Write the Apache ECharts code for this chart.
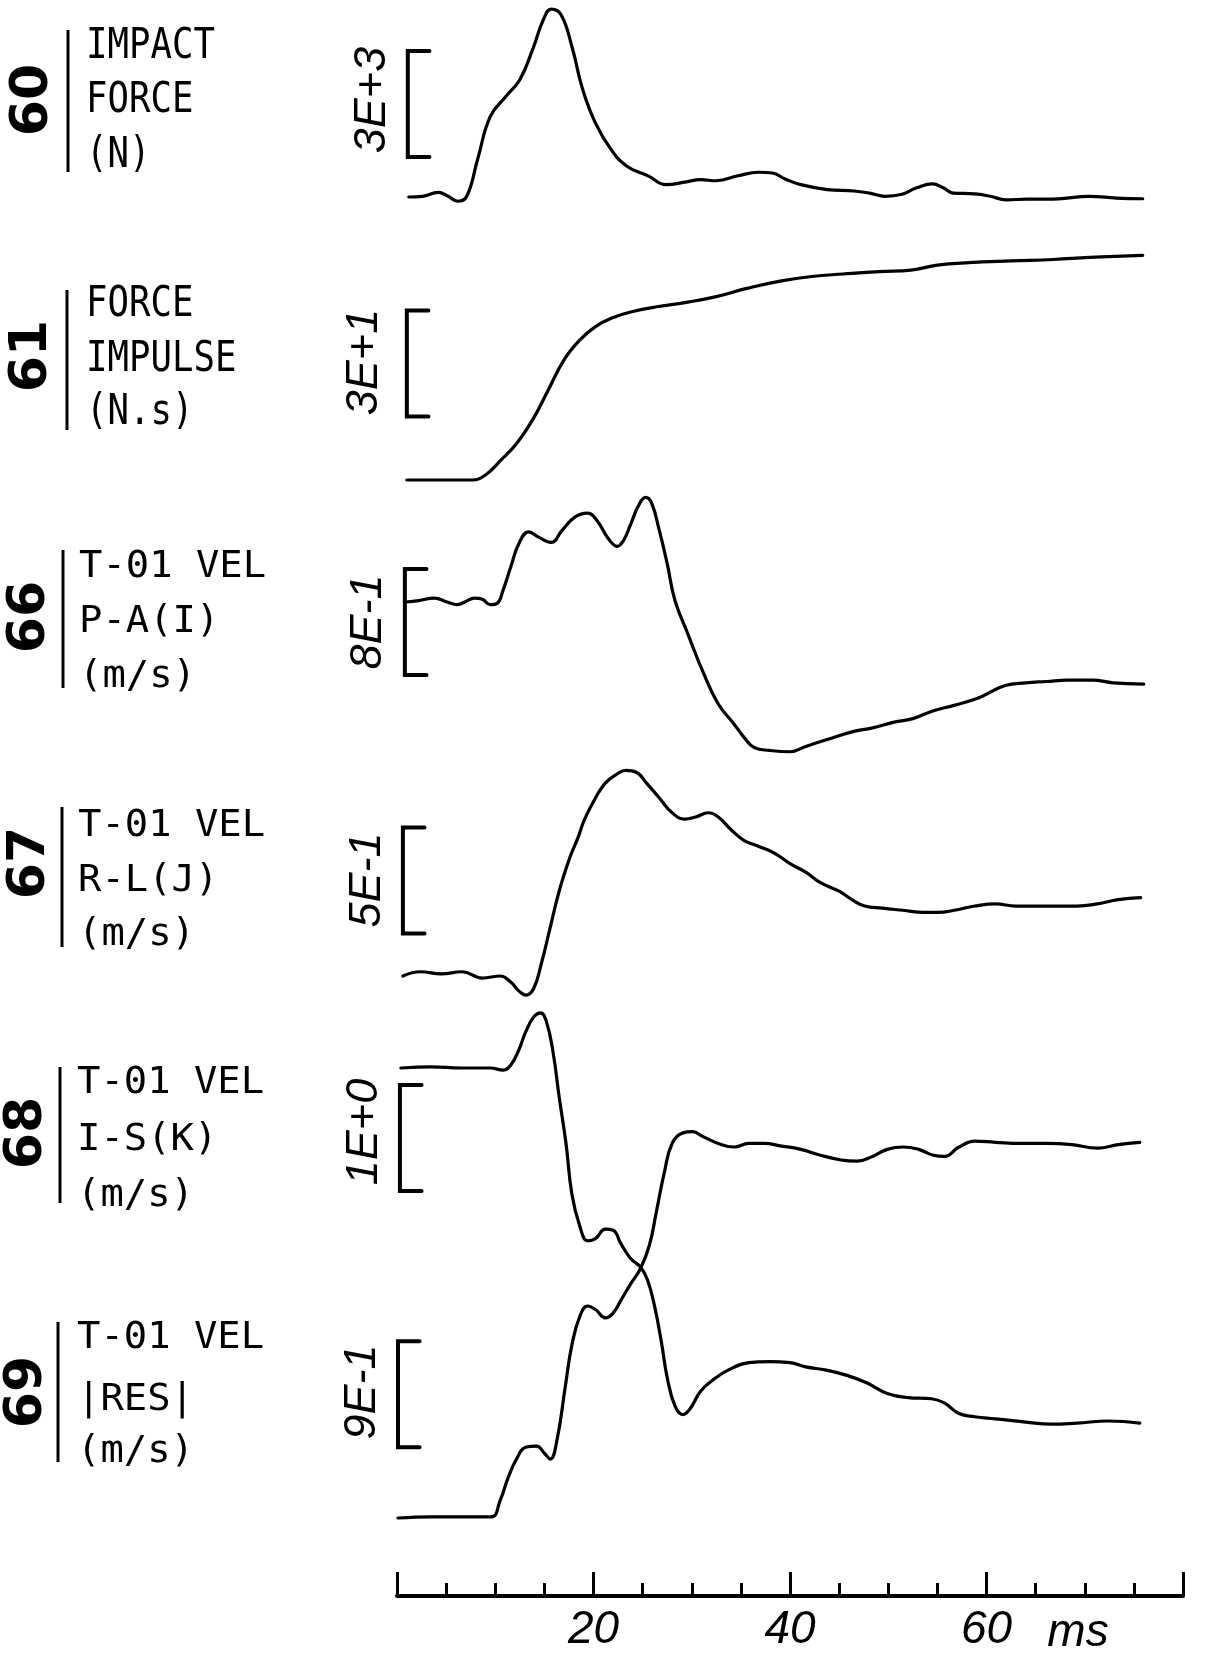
<!DOCTYPE html>
<html>
<head>
<meta charset="utf-8">
<title>Impact force and T-01 velocity traces</title>
<script src="https://cdn.jsdelivr.net/npm/echarts@6/dist/echarts.min.js"></script>
<style>
  html, body { margin: 0; padding: 0; background: #fff; }
  #chart { width: 1207px; height: 1664px; }
</style>
</head>
<body>
<div id="chart"></div>
<script>
// ---- channel 60: impact force (N) ----
const t60 = [1.2, 2.6, 4.2, 5.2, 6.2, 7.1, 8.2, 9.5, 11.1, 12.5, 13.8, 14.9, 15.7, 16.7, 17.8, 18.9, 20.2, 21.8, 23.4, 25.6,
             27.4, 29.3, 30.9, 32.5, 34.7, 36.8, 38.2, 39.5, 41.1, 43.8, 46.5, 48.1, 49.7, 51.3, 52.9, 54.5, 55.6, 56.6, 58.8, 60.4,
             62.0, 64.1, 66.8, 70.5, 73.2, 75.9];
const f60 = [0, 20, 130, 20, -120, 20, 1060, 2280, 2850, 3320, 4170, 5020, 5320, 5160, 4260, 3040, 2090, 1340, 870, 590,
             350, 420, 490, 460, 600, 700, 680, 510, 350, 210, 170, 110, 20, 70, 260, 370, 260, 110, 90, 20,
             -80, -60, -60, 20, -30, -50];

// ---- channel 61: force impulse (N.s) ----
const t61 = [1.0, 7.6, 9.0, 10.6, 12.2, 13.8, 15.4, 17.0, 18.6, 20.2, 21.8, 24.0, 26.6, 29.3, 32.5, 35.7, 39.0, 42.2, 45.4, 49.1,
             52.3, 55.0, 58.2, 62.5, 66.8, 70.5, 75.9];
const i61 = [0, 0, 1.4, 5.7, 10.4, 17.0, 25.5, 34.0, 39.6, 43.4, 45.8, 47.7, 49.1, 50.2, 51.9, 54.3, 56.3, 57.6, 58.3, 59.0,
             59.4, 60.8, 61.5, 62.0, 62.4, 63.0, 63.6];

// ---- channel 66: T-01 velocity P-A (m/s) ----
const t66 = [0.9, 2.2, 3.8, 5.1, 6.1, 6.9, 7.9, 8.7, 9.5, 10.2, 10.8, 11.6, 12.4, 13.4, 14.4, 15.7, 16.8, 18.1, 19.4, 20.4,
             21.5, 22.4, 23.1, 23.8, 24.6, 25.3, 25.9, 26.7, 27.5, 28.3, 29.6, 31.1, 32.7, 34.3, 35.3, 36.4, 37.9, 40.0, 41.6, 43.7,
             46.3, 48.4, 50.4, 52.5, 54.6, 56.7, 59.3, 61.9, 64.0, 66.1, 68.2, 70.8, 72.9, 76.0];
const v66 = [0, 0.01, 0.03, 0, -0.02, 0, 0.03, 0.02, -0.02, -0.01, 0.09, 0.27, 0.44, 0.53, 0.49, 0.45, 0.54, 0.64, 0.67, 0.61,
             0.48, 0.42, 0.47, 0.59, 0.73, 0.79, 0.75, 0.54, 0.29, 0.01, -0.24, -0.52, -0.77, -0.92, -1.02, -1.10, -1.12, -1.13, -1.09, -1.04,
             -0.98, -0.95, -0.91, -0.88, -0.82, -0.78, -0.72, -0.63, -0.61, -0.60, -0.59, -0.59, -0.61, -0.62];

// ---- channel 67: T-01 velocity R-L (m/s) ----
const t67 = [0.6, 2.4, 4.5, 6.6, 8.7, 10.5, 11.6, 12.4, 13.1, 13.9, 14.7, 15.5, 16.5, 17.6, 18.4, 19.1, 20.2, 21.2, 22.3, 23.3,
             24.4, 25.4, 26.7, 28.0, 29.3, 30.4, 31.7, 32.7, 34.0, 35.3, 36.9, 38.4, 40.0, 41.6, 43.1, 45.0, 46.3, 47.6, 49.4, 51.5,
             53.6, 55.1, 56.7, 58.8, 60.9, 63.0, 65.0, 67.1, 69.2, 71.3, 73.4, 75.7];
const v67 = [0, 0.02, 0.01, 0.02, -0.01, 0, -0.03, -0.07, -0.09, -0.06, 0.06, 0.21, 0.40, 0.56, 0.65, 0.74, 0.84, 0.91, 0.95, 0.97,
             0.96, 0.91, 0.84, 0.77, 0.74, 0.75, 0.77, 0.75, 0.69, 0.64, 0.61, 0.58, 0.53, 0.49, 0.44, 0.40, 0.36, 0.33, 0.32, 0.31,
             0.30, 0.30, 0.31, 0.33, 0.34, 0.33, 0.33, 0.33, 0.33, 0.34, 0.36, 0.37];

// ---- channel 68: T-01 velocity I-S (m/s) ----
const t68 = [0.4, 3.5, 6.6, 9.5, 10.8, 11.6, 12.4, 13.1, 13.9, 14.6, 15.2, 15.9, 16.5, 17.2, 17.8, 18.6, 19.4, 20.2, 21.2, 22.0,
             22.8, 23.8, 24.8, 25.5, 26.2, 26.9, 27.5, 28.3, 29.1, 29.8, 30.9, 32.2, 33.7, 35.8, 37.9, 40.0, 41.6, 43.7, 45.8, 47.8,
             49.9, 52.0, 54.4, 55.7, 57.2, 58.8, 60.9, 64.0, 66.6, 69.2, 72.4, 75.6];
const v68 = [0, 0.01, 0, 0, -0.02, 0.03, 0.17, 0.34, 0.48, 0.52, 0.44, 0.14, -0.27, -0.71, -1.19, -1.49, -1.63, -1.61, -1.52, -1.53,
             -1.66, -1.80, -1.88, -2.00, -2.24, -2.58, -2.92, -3.19, -3.27, -3.22, -3.05, -2.94, -2.85, -2.78, -2.77, -2.78, -2.82, -2.85, -2.90, -2.97,
             -3.07, -3.11, -3.12, -3.16, -3.26, -3.29, -3.31, -3.34, -3.36, -3.35, -3.33, -3.35];

// ---- channel 69: T-01 velocity |RES| (m/s) ----
const t69 = [0.1, 3.5, 6.6, 9.6, 10.5, 11.3, 12.1, 13.1, 14.2, 15.0, 15.6, 16.3, 17.1, 17.8, 18.6, 19.4, 20.2, 21.2, 22.0, 22.8,
             23.8, 24.8, 25.7, 26.4, 27.2, 28.0, 29.1, 30.1, 31.1, 32.7, 34.3, 35.8, 37.4, 39.0, 41.1, 43.1, 45.2, 46.8, 48.4, 49.9,
             51.5, 53.1, 54.6, 55.7, 57.2, 58.8, 60.9, 63.5, 66.1, 68.7, 71.3, 73.4, 75.6];
const v69 = [0, 0.01, 0.01, 0.01, 0.15, 0.34, 0.49, 0.60, 0.61, 0.55, 0.50, 0.67, 1.10, 1.47, 1.71, 1.80, 1.77, 1.70, 1.74, 1.85,
             1.99, 2.12, 2.32, 2.60, 2.93, 3.18, 3.27, 3.28, 3.24, 3.18, 3.15, 3.18, 3.18, 3.16, 3.13, 3.08, 3.04, 3.03, 3.07, 3.13,
             3.15, 3.13, 3.08, 3.07, 3.15, 3.20, 3.19, 3.18, 3.18, 3.17, 3.14, 3.17, 3.19];

// scale bar of each channel: span and lower end, in channel units
const scaleSpan = [3000, 30, 0.8, 0.5, 1.0, 0.9];
const scaleLow = [1130, 18, -0.55, 0.2, -1.16, 0.6];
const scaleLabels = ['3E+3', '3E+1', '8E-1', '5E-1', '1E+0', '9E-1'];

// channel numbers and titles
const channelNumbers = ['60', '61', '66', '67', '68', '69'];
const channelTitles = [
  ['IMPACT', 'FORCE', '(N)'],
  ['FORCE', 'IMPULSE', '(N.s)'],
  ['T-01 VEL', 'P-A(I)', '(m/s)'],
  ['T-01 VEL', 'R-L(J)', '(m/s)'],
  ['T-01 VEL', 'I-S(K)', '(m/s)'],
  ['T-01 VEL', '|RES|', '(m/s)']
];

// time axis
const timeMin = 0, timeMax = 80, timeStep = 20;
const timeTickLabels = [20, 40, 60];
const timeUnit = 'ms';

const traces = [[t60, f60], [t61, i61], [t66, v66], [t67, v67], [t68, v68], [t69, v69]];

// ---- page layout (pixels) ----
const W = 1207, H = 1664;
const plotLeft = 397, plotRight = 1183, axisY = 1596;
const barPx = 106;                       // drawn height of every scale bar
const zeroPx = [197, 480, 602, 976, 1068, 1518];   // where each channel's zero sits
const barX = [1.1, 1.0, 0.8, 0.6, 0.3, 0.1];       // scale bar stem, in ms
const barTick = 2.2;                                // scale bar end ticks, in ms

const numPos = [[33, 100], [32, 356], [30, 617], [30, 863], [27, 1133], [27, 1392]];
const sepPos = [[68, 30, 172], [67, 290, 430], [63, 550, 688], [62, 807, 947], [60, 1067, 1203], [58, 1322, 1462]];
const titleX = [86, 86, 79, 78, 77, 77];
const titleY = [[47, 101, 156], [305, 360, 413], [567, 622, 677], [826, 881, 935], [1083, 1140, 1196], [1338, 1400, 1452]];
const scaleLabelPos = [[372, 100], [364, 362], [368, 622], [367, 880], [364, 1132], [362, 1392]];

const ink = '#000';
const gridH = axisY;   // grid spans from page top to the time axis

const yAxes = zeroPx.map((z, i) => {
  const ppu = barPx / scaleSpan[i];
  return {
    type: 'value', gridIndex: 0, show: false,
    min: -(gridH - z) / ppu,
    max: z / ppu,
    splitLine: { show: false }
  };
});

const series = [];
traces.forEach(([t, v], i) => {
  series.push({
    type: 'line', name: channelNumbers[i], xAxisIndex: 0, yAxisIndex: i,
    data: t.map((x, k) => [x, v[k]]),
    showSymbol: false, smooth: 0.45, clip: false,
    lineStyle: { color: ink, width: 3.2, cap: 'round', join: 'round' },
    silent: true, z: 3
  });
  const lo = scaleLow[i], hi = scaleLow[i] + scaleSpan[i];
  series.push({
    type: 'line', name: scaleLabels[i], xAxisIndex: 0, yAxisIndex: i,
    data: [[barX[i] + barTick, hi], [barX[i], hi], [barX[i], lo], [barX[i] + barTick, lo]],
    showSymbol: false, smooth: false, clip: false,
    lineStyle: { color: ink, width: 4, cap: 'round', join: 'miter' },
    silent: true, z: 3
  });
});

const graphics = [];
channelNumbers.forEach((n, i) => {
  graphics.push({
    type: 'text', x: numPos[i][0], y: numPos[i][1], rotation: Math.PI / 2,
    style: { text: n, fontFamily: 'DejaVu Sans', fontWeight: 'bold', fontSize: 52,
             fill: ink, align: 'center', verticalAlign: 'middle' }
  });
  graphics.push({
    type: 'line',
    shape: { x1: sepPos[i][0], y1: sepPos[i][1], x2: sepPos[i][0], y2: sepPos[i][2] },
    style: { stroke: ink, lineWidth: 3 }
  });
  const big = i < 2;
  channelTitles[i].forEach((line, k) => {
    graphics.push({
      type: 'text', x: titleX[i], y: titleY[i][k], scaleX: big ? 0.85 : 1.05,
      style: { text: line, fontFamily: 'DejaVu Sans Mono', fontSize: big ? 42 : 37,
               fill: ink, align: 'left', verticalAlign: 'middle' }
    });
  });
  graphics.push({
    type: 'text', x: scaleLabelPos[i][0], y: scaleLabelPos[i][1], rotation: Math.PI / 2,
    style: { text: scaleLabels[i], fontFamily: 'Liberation Sans', fontStyle: 'italic', fontSize: 45,
             fill: ink, align: 'center', verticalAlign: 'middle' }
  });
});
graphics.push({
  type: 'text', x: 1078, y: 1633,
  style: { text: timeUnit, fontFamily: 'Liberation Sans', fontStyle: 'italic', fontSize: 46,
           fill: ink, align: 'center', verticalAlign: 'middle' }
});

const chart = echarts.init(document.getElementById('chart'), null, { renderer: 'canvas', width: W, height: H });
chart.setOption({
  animation: false,
  backgroundColor: '#fff',
  grid: { left: plotLeft, right: W - plotRight, top: 0, height: gridH, containLabel: false },
  xAxis: {
    type: 'value', gridIndex: 0, min: timeMin, max: timeMax, interval: timeStep, position: 'bottom',
    axisLine: { show: true, onZero: false, lineStyle: { color: ink, width: 4 } },
    axisTick: { show: true, inside: true, length: 24, lineStyle: { color: ink, width: 3 } },
    minorTick: { show: true, splitNumber: 4, length: 13, lineStyle: { color: ink, width: 3 } },
    splitLine: { show: false },
    axisLabel: {
      show: true, margin: 11, color: ink, fontFamily: 'Liberation Sans', fontStyle: 'italic', fontSize: 46,
      formatter: v => timeTickLabels.includes(v) ? String(v) : ''
    }
  },
  yAxis: yAxes,
  series: series,
  graphic: graphics
});
</script>
</body>
</html>
